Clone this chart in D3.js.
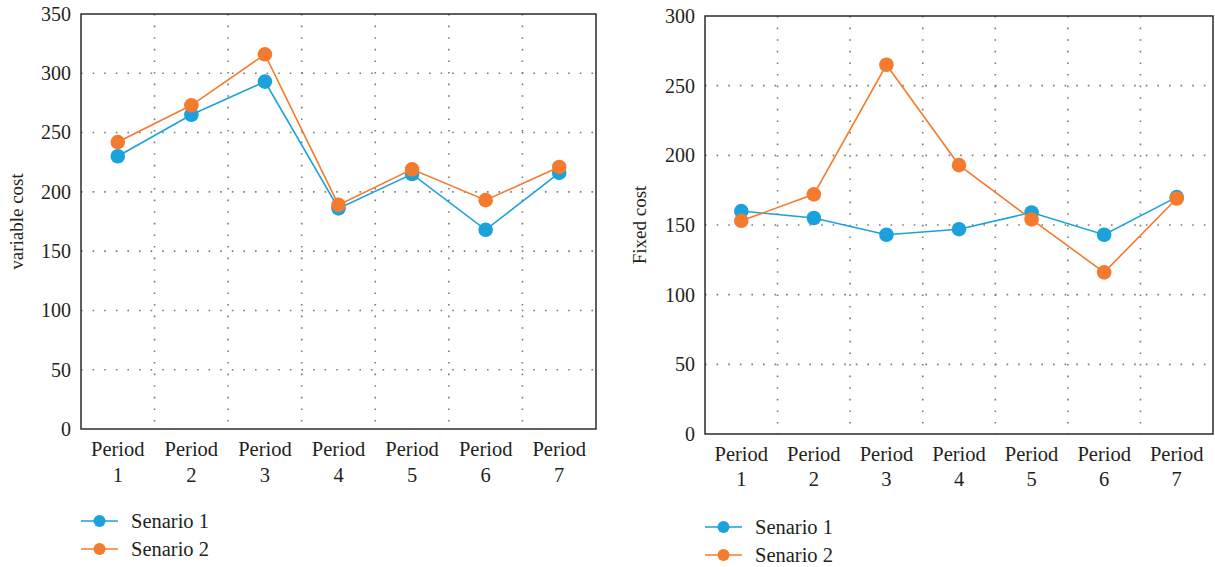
<!DOCTYPE html>
<html>
<head>
<meta charset="utf-8">
<script src="https://cdn.jsdelivr.net/npm/d3@7"></script>
<style>
  html, body { margin: 0; padding: 0; background: #fff; }
  svg { display: block; }
  text { font-family: "Liberation Serif", "DejaVu Serif", serif; fill: #231f20; }
</style>
</head>
<body>
<svg id="chart" width="1215" height="567"></svg>
<script>
// Period categories shared by both panels
const periods = ["Period 1", "Period 2", "Period 3", "Period 4", "Period 5", "Period 6", "Period 7"];
const seriesNames = ["Senario 1", "Senario 2"];

// Variable cost per period
const variableS1 = [230, 265, 293, 186, 215, 168, 216];
const variableS2 = [242, 273, 316, 189, 219, 193, 221];

// Fixed cost per period
const fixedS1 = [160, 155, 143, 147, 159, 143, 170];
const fixedS2 = [153, 172, 265, 193, 154, 116, 169];

const variableTicks = [0, 50, 100, 150, 200, 250, 300, 350];
const fixedTicks = [0, 50, 100, 150, 200, 250, 300];

const colors = ["#1ba1dc", "#f47b2e"];

const svg = d3.select("#chart");

function panel(cfg) {
  const g = svg.append("g");
  const x = d3.scaleBand().domain(periods).range([cfg.left, cfg.right]);
  const y = d3.scaleLinear().domain([0, cfg.max]).range([cfg.bottom, cfg.top]);

  // dotted grid: horizontal at ticks, vertical between categories
  g.append("g").selectAll("line.h")
    .data(cfg.ticks.filter(t => t > 0 && t < cfg.max))
    .join("line")
    .attr("x1", cfg.left).attr("x2", cfg.right)
    .attr("y1", d => y(d)).attr("y2", d => y(d))
    .attr("stroke", "#7a7a7a").attr("stroke-width", 1.6)
    .attr("stroke-dasharray", "1.6,10");
  g.append("g").selectAll("line.v")
    .data(periods.slice(1))
    .join("line")
    .attr("x1", d => x(d)).attr("x2", d => x(d))
    .attr("y1", cfg.top).attr("y2", cfg.bottom)
    .attr("stroke", "#7a7a7a").attr("stroke-width", 1.6)
    .attr("stroke-dasharray", "1.6,10");

  // frame
  g.append("rect")
    .attr("x", cfg.left).attr("y", cfg.top)
    .attr("width", cfg.right - cfg.left).attr("height", cfg.bottom - cfg.top)
    .attr("fill", "none").attr("stroke", "#2b2b2b").attr("stroke-width", 1.5);

  // y axis labels
  const yAxis = d3.axisLeft(y).tickValues(cfg.ticks).tickSize(0).tickPadding(10);
  const ya = g.append("g").attr("transform", `translate(${cfg.left},0)`).call(yAxis);
  ya.select(".domain").remove();
  ya.selectAll("text")
    .style("font-family", '"Liberation Serif", "DejaVu Serif", serif')
    .style("font-size", "20px").attr("fill", "#231f20");

  // x axis labels, two lines each
  const xAxis = d3.axisBottom(x).tickSize(0).tickFormat("");
  const xa = g.append("g").attr("transform", `translate(0,${cfg.bottom})`).call(xAxis);
  xa.select(".domain").remove();
  xa.selectAll(".tick").each(function(d) {
    const parts = d.split(" ");
    const t = d3.select(this).append("text")
      .attr("text-anchor", "middle")
      .style("font-family", '"Liberation Serif", "DejaVu Serif", serif')
      .style("font-size", "20.5px")
      .attr("fill", "#231f20");
    t.append("tspan").attr("x", 0).attr("y", cfg.lab1).text(parts[0]);
    t.append("tspan").attr("x", 0).attr("y", cfg.lab2).text(parts[1]);
  });

  // axis title
  g.append("text")
    .attr("transform", `translate(${cfg.titleX},${(cfg.top + cfg.bottom) / 2}) rotate(-90)`)
    .attr("text-anchor", "middle")
    .style("font-size", "19px")
    .text(cfg.title);

  // series
  const line = d3.line().x((d, i) => x(periods[i]) + x.bandwidth() / 2).y(d => y(d));
  cfg.series.forEach((vals, si) => {
    g.append("path").datum(vals)
      .attr("d", line).attr("fill", "none")
      .attr("stroke", colors[si]).attr("stroke-width", 1.6);
    g.append("g").selectAll("circle").data(vals).join("circle")
      .attr("cx", (d, i) => x(periods[i]) + x.bandwidth() / 2)
      .attr("cy", d => y(d))
      .attr("r", 7.3)
      .attr("fill", colors[si]);
  });

  // legend
  seriesNames.forEach((name, si) => {
    const ly = cfg.legendY + si * 28;
    g.append("line")
      .attr("x1", cfg.left).attr("x2", cfg.left + 37)
      .attr("y1", ly).attr("y2", ly)
      .attr("stroke", colors[si]).attr("stroke-width", 1.6);
    g.append("circle")
      .attr("cx", cfg.left + 18.5).attr("cy", ly).attr("r", 6)
      .attr("fill", colors[si]);
    g.append("text")
      .attr("x", cfg.left + 50).attr("y", ly)
      .attr("dy", "0.35em")
      .style("font-size", "20.5px")
      .text(name);
  });
}

panel({
  left: 81, right: 596, top: 14, bottom: 429, max: 350,
  ticks: variableTicks, series: [variableS1, variableS2],
  title: "variable cost", titleX: 23,
  lab1: 27, lab2: 53, legendY: 521
});

panel({
  left: 705, right: 1213, top: 16, bottom: 434, max: 300,
  ticks: fixedTicks, series: [fixedS1, fixedS2],
  title: "Fixed cost", titleX: 646,
  lab1: 27, lab2: 52, legendY: 527
});
</script>
</body>
</html>
